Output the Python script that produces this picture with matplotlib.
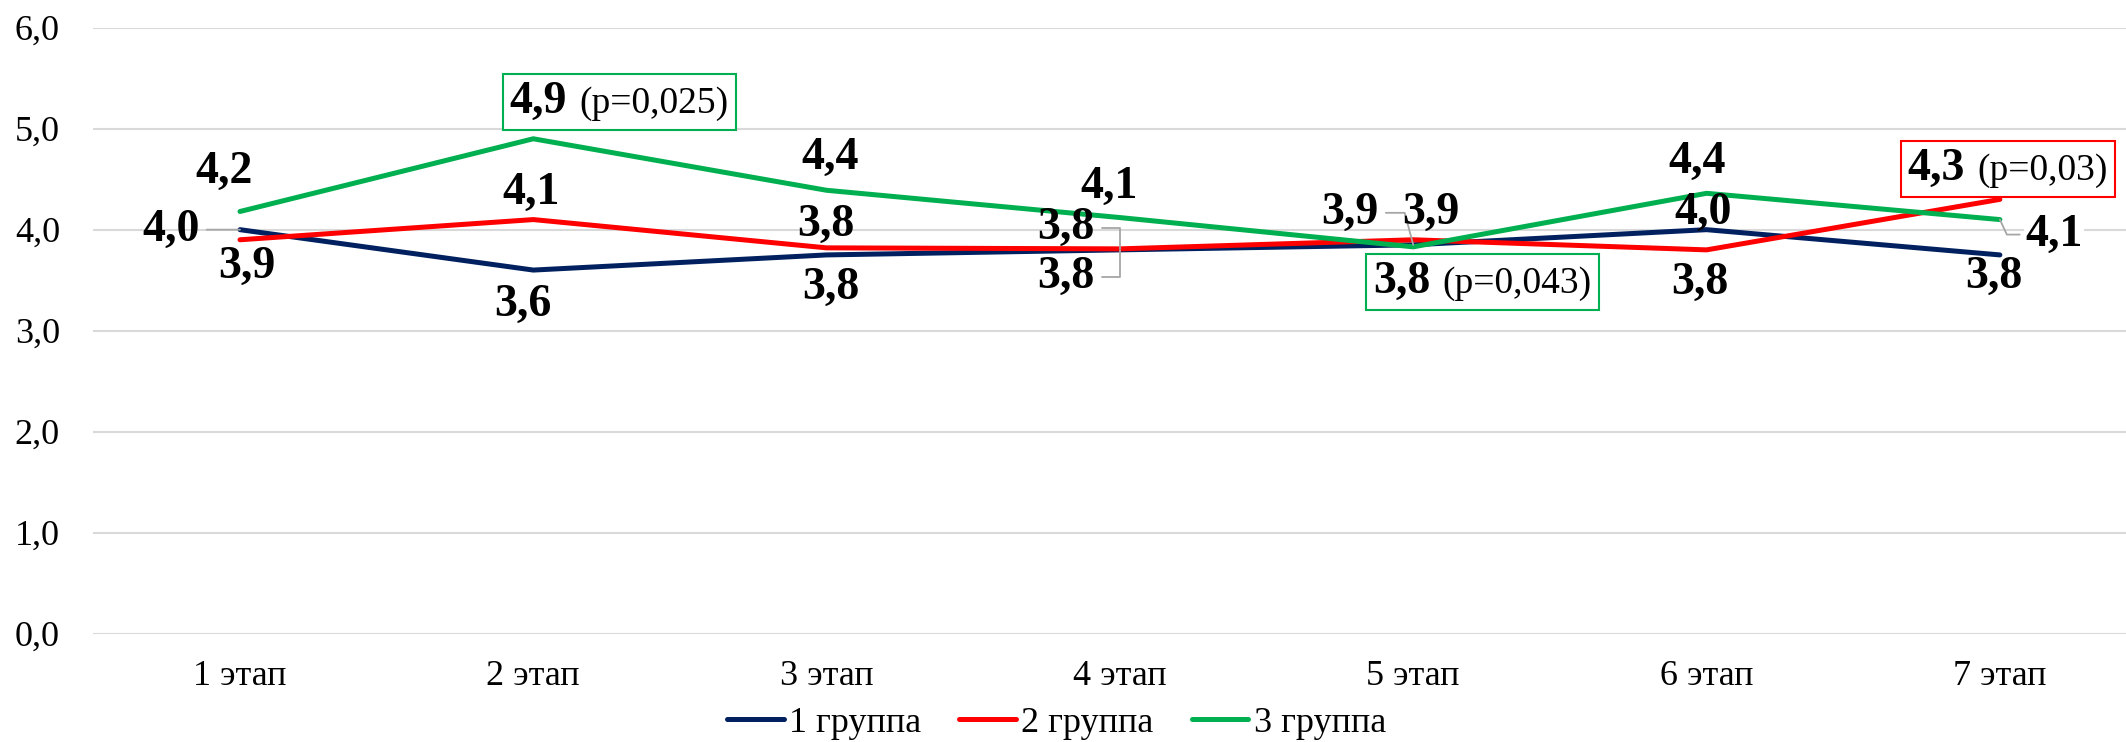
import matplotlib
matplotlib.use("Agg")
import matplotlib.pyplot as plt
from matplotlib.offsetbox import TextArea, HPacker, AnnotationBbox

plt.rcParams['font.family'] = 'Liberation Serif'

# data
stages = ['1 этап', '2 этап', '3 этап', '4 этап', '5 этап', '6 этап', '7 этап']
group1 = [4.0, 3.6, 3.75, 3.8, 3.85, 4.0, 3.75]
group2 = [3.9, 4.1, 3.82, 3.81, 3.9, 3.8, 4.3]
group3 = [4.18, 4.9, 4.39, 4.12, 3.83, 4.36, 4.1]
labels1 = ['4,0', '3,6', '3,8', '3,8', '3,9', '4,0', '3,8']
labels2 = ['3,9', '4,1', '3,8', '3,8', '3,9', '3,8', '4,3']
labels3 = ['4,2', '4,9', '4,4', '4,1', '3,8', '4,4', '4,1']
series_names = ['1 группа', '2 группа', '3 группа']
pvalues = {(1, 6): '(p=0,03)', (2, 1): '(p=0,025)', (2, 4): '(p=0,043)'}

colors = ['#002060', '#FF0000', '#00B050']

# label offsets from the points, in pixels
offsets = [
    [(-69, 0), (-10, -35), (4, -33), (-54, -27), (-63, 32), (-3, 17), (-6, -22)],
    [(7, -27), (-2, 27), (-1, 23), (-54, 21), (18, 27), (-7, -33), (8, 30)],
    [(-16, 40), (86, 37), (4, 32), (-11, 31), (69, -35), (-9, 31), (54, -15)],
]
# leader lines (series, point) -> (connection style, start on text)
leaders = {
    (0, 0): ('arc3', (1, 0.5)),
    (0, 3): ('angle,angleA=0,angleB=90,rad=0', (1, 0.5)),
    (1, 3): ('angle,angleA=0,angleB=90,rad=0', (1, 0.5)),
    (0, 4): ('angle,angleA=0,angleB=105,rad=0', (1, 0.5)),
    (2, 6): ('angle,angleA=0,angleB=-65,rad=0', (0, 0.5)),
}
white_bg = [(2, 2), (2, 5), (2, 6)]

fig = plt.figure(figsize=(21.26, 7.42), dpi=100)
ax = fig.add_axes([0.0439, 0.146, 0.9561, 0.8167])

x = list(range(len(stages)))
all_values = [group1, group2, group3]
all_labels = [labels1, labels2, labels3]

for s, vals in enumerate(all_values):
    ax.plot(x, vals, color=colors[s], lw=3.6, label=series_names[s],
            solid_joinstyle='round', solid_capstyle='round', zorder=2)

for s in range(3):
    for i in x:
        v = all_values[s][i]
        dx, dy = offsets[s][i]
        if (s, i) in pvalues:
            bold = TextArea(all_labels[s][i], textprops=dict(fontsize=33, fontweight='bold'))
            reg = TextArea(pvalues[(s, i)], textprops=dict(fontsize=27))
            pack = HPacker(children=[bold, reg], align='baseline', pad=5, sep=9)
            ab = AnnotationBbox(pack, (i, v), xybox=(dx, dy), boxcoords='offset pixels',
                                frameon=True, pad=0,
                                bboxprops=dict(edgecolor=colors[s], facecolor='white', lw=1.5))
            ab.set_zorder(4)
            ax.add_artist(ab)
            continue
        kw = {}
        if (s, i) in leaders:
            cs, rp = leaders[(s, i)]
            kw['arrowprops'] = dict(arrowstyle='-', color='#A6A6A6', lw=1.3,
                                    connectionstyle=cs, relpos=rp, shrinkA=3, shrinkB=0)
        if (s, i) in white_bg:
            kw['bbox'] = dict(facecolor='white', edgecolor='none', pad=1)
        ax.annotate(all_labels[s][i], xy=(i, v), xytext=(dx, dy), textcoords='offset pixels',
                    ha='center', va='center', fontsize=33, fontweight='bold', zorder=5, **kw)

ax.set_xlim(-0.5, 6.43)
ax.set_ylim(0, 6)
ax.set_yticks([0, 1, 2, 3, 4, 5, 6])
ax.set_yticklabels(['0,0', '1,0', '2,0', '3,0', '4,0', '5,0', '6,0'])
ax.set_xticks(x)
ax.set_xticklabels(stages)
ax.tick_params(axis='y', length=0, pad=24, labelsize=26)
ax.tick_params(axis='x', length=0, pad=19, labelsize=26)
ax.grid(axis='y', color='#D9D9D9', lw=1.5)
ax.set_axisbelow(True)
for sp in ax.spines.values():
    sp.set_visible(False)

fig.legend(loc='center', bbox_to_anchor=(0.497, 0.0256), ncol=3, frameon=False,
           fontsize=26, handlelength=1.57, handletextpad=0.15, columnspacing=1.05)

fig.savefig('out.png', dpi=100)
